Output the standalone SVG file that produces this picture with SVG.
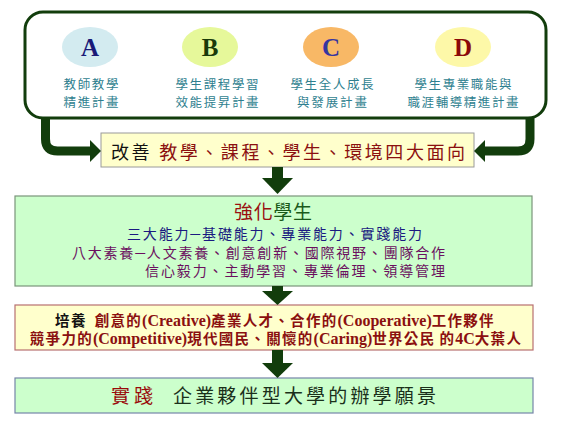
<svg xmlns="http://www.w3.org/2000/svg" width="570" height="428" viewBox="0 0 570 428">
<style>
text{font-family:"Liberation Serif","Noto Sans CJK TC",serif;}
.lab{font-size:12.5px;fill:#2f7f8f;text-anchor:middle;}
.let{font-size:25px;font-weight:bold;text-anchor:middle;}
.conn{fill:none;stroke:#123d0c;stroke-width:9;}
.head{fill:#123d0c;}
.yb{fill:#ffffcc;}
.gb{fill:#ccffcc;}
.cv{font-size:14.5px;font-weight:bold;text-anchor:middle;}
.cj{letter-spacing:1.3px;}
.la{font-size:16px;letter-spacing:0;}
</style>
<g id="top-frame">
<rect x="25" y="12" width="521" height="106" rx="18" ry="18" fill="#ffffff" stroke="#123d0c" stroke-width="3"/>
</g>
<g id="node-A">
<ellipse cx="90" cy="47" rx="28" ry="20" fill="#d3ebf0"/>
<text class="let" x="90" y="56" fill="#1a1a78">A</text>
<text class="lab" x="91" y="89" textLength="55">教師教學</text>
<text class="lab" x="91" y="107" textLength="55">精進計畫</text>
</g>
<g id="node-B">
<ellipse cx="210" cy="47" rx="28" ry="20" fill="#e6f89a"/>
<text class="let" x="210" y="56" fill="#1a3a0a">B</text>
<text class="lab" x="217" y="89" textLength="83">學生課程學習</text>
<text class="lab" x="217" y="107" textLength="83">效能提昇計畫</text>
</g>
<g id="node-C">
<ellipse cx="331" cy="47" rx="28" ry="20" fill="#f8b866"/>
<text class="let" x="331" y="56" fill="#3535a0">C</text>
<text class="lab" x="332" y="89" textLength="83">學生全人成長</text>
<text class="lab" x="332" y="107" textLength="70">與發展計畫</text>
</g>
<g id="node-D">
<ellipse cx="463" cy="47" rx="28" ry="20" fill="#fdf8a8"/>
<text class="let" x="463" y="56" fill="#8b0a0a">D</text>
<text class="lab" x="463" y="89" textLength="97">學生專業職能與</text>
<text class="lab" x="463" y="107" textLength="111">職涯輔導精進計畫</text>
</g>
<g id="node-improve">
<rect class="yb" x="101" y="133" width="373" height="34" stroke="#9a9a9a" stroke-width="1"/>
<text x="111" y="159" font-size="18" textLength="354"><tspan fill="#111111">改善 </tspan><tspan fill="#8b1010">教學、課程、學生、環境四大面向</tspan></text>
</g>
<g id="node-strengthen">
<rect class="gb" x="15" y="196" width="517" height="90" stroke="#7a957a" stroke-width="1.2"/>
<text x="234" y="219" font-size="19" textLength="78"><tspan fill="#9a1010">強化</tspan><tspan fill="#1a5a1a">學生</tspan></text>
<text x="127" y="239" font-size="14" fill="#1a1a80" textLength="295">三大能力─基礎能力、專業能力、實踐能力</text>
<text x="72" y="258" font-size="14" fill="#6b0f5f" textLength="373">八大素養─人文素養、創意創新、國際視野、團隊合作</text>
<text x="145" y="276" font-size="14" fill="#6b0f5f" textLength="300">信心毅力、主動學習、專業倫理、領導管理</text>
</g>
<g id="node-cultivate">
<rect class="yb" x="15" y="305" width="518" height="45" stroke="#b87070" stroke-width="1.2"/>
<text class="cv" x="275" y="326" fill="#8b1010"><tspan class="cj" fill="#111111">培養</tspan><tspan class="cj" dx="8">創意的</tspan><tspan class="la">(Creative)</tspan><tspan class="cj">產業人才、合作的</tspan><tspan class="la">(Cooperative)</tspan><tspan class="cj">工作夥伴</tspan></text>
<text class="cv" x="276" y="344" fill="#8b1010"><tspan class="cj">競爭力的</tspan><tspan class="la">(Competitive)</tspan><tspan class="cj">現代國民、關懷的</tspan><tspan class="la">(Caring)</tspan><tspan class="cj">世界公民</tspan><tspan class="cj" dx="4">的</tspan><tspan class="la">4C</tspan><tspan class="cj">大葉人</tspan></text>
</g>
<g id="node-practice">
<rect class="gb" x="15" y="378" width="518" height="35" stroke="#7585a8" stroke-width="1.2"/>
<text x="111" y="403" font-size="19" fill="#9a0a0a" textLength="42">實踐</text>
<text x="173" y="403" font-size="19" fill="#1a301a" textLength="263">企業夥伴型大學的辦學願景</text>
</g>
<g id="connectors">
<path class="conn" d="M45.5,118 V139 Q45.5,151 57.5,151 H92"/>
<polygon class="head" points="90,140 101,151 90,162"/>
<path class="conn" d="M530,118 V139 Q530,151 518,151 H483"/>
<polygon class="head" points="485,140 474,151 485,162"/>
<rect class="head" x="272" y="167" width="11" height="12"/>
<polygon class="head" points="262,178 293,178 277.5,194"/>
<rect class="head" x="272" y="286" width="11" height="6"/>
<polygon class="head" points="262,291 293,291 277.5,305"/>
<rect class="head" x="272" y="350" width="11" height="14"/>
<polygon class="head" points="262,363 293,363 277.5,378"/>
</g>
</svg>
